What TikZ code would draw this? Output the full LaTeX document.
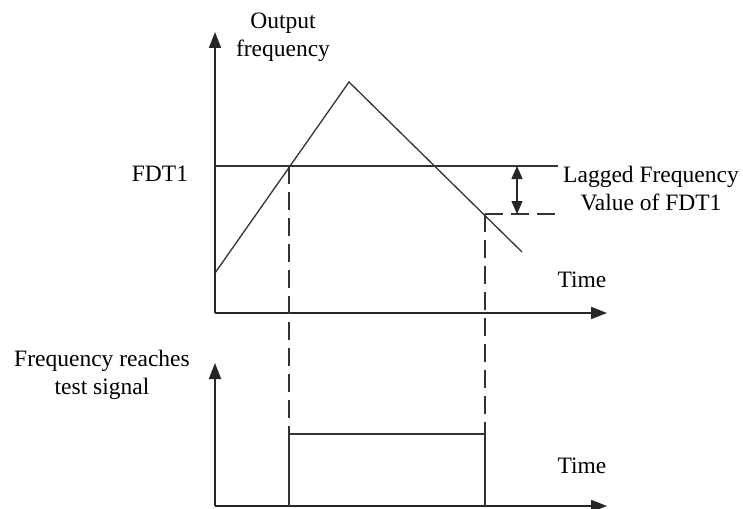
\documentclass[tikz,border=0pt]{standalone}
\usepackage{fontspec}
\setmainfont{Liberation Serif}
\usetikzlibrary{arrows.meta}
\begin{document}
\begin{tikzpicture}[x=1pt,y=-1pt,
  axis/.style={line width=1.8pt,draw=black!85,-{Triangle[length=16pt,width=12pt]}},
  curve/.style={line width=1.3pt,draw=black!80},
  dashline/.style={line width=1.5pt,draw=black!80,dash pattern=on 18pt off 8pt},
  lbl/.style={font=\fontsize{23.5}{28}\selectfont,align=center,inner sep=0pt}]
\useasboundingbox (0,0) rectangle (743,508);
% coordinates
\coordinate (O1) at (215,313);
\coordinate (Y1) at (215,32);
\coordinate (X1) at (607,313);
\coordinate (f0) at (215,273);
\coordinate (pk) at (349,82);
\coordinate (fe) at (522,252);
\coordinate (dL) at (215,166);
\coordinate (dR) at (558,166);
\coordinate (c1) at (289,166);
\coordinate (c2) at (485,214);
\coordinate (lR) at (558,214);
\coordinate (ar1) at (517,166);
\coordinate (ar2) at (517,214);
\coordinate (O2) at (215,506);
\coordinate (Y2) at (215,363);
\coordinate (X2) at (607,506);
\coordinate (p1b) at (289,506);
\coordinate (p1t) at (289,434);
\coordinate (p2t) at (485,434);
\coordinate (p2b) at (485,506);
% top chart
\draw[axis] (O1) -- (Y1);
\draw[axis] (O1) -- (X1);
\draw[curve] (f0) -- (pk) -- (fe);
\draw[curve] (dL) -- (dR);
\draw[dashline] (c2) -- (lR);
\draw[line width=1.3pt,draw=black!85,{Triangle[length=13pt,width=11pt]}-{Triangle[length=13pt,width=11pt]}] (ar1) -- (ar2);
% dashed verticals
\draw[dashline] (c1) -- (p1t);
\draw[dashline] (c2) -- (p2t);
% bottom chart
\draw[axis] (O2) -- (Y2);
\draw[axis] (O2) -- (X2);
\draw[curve] (p1b) -- (p1t) -- (p2t) -- (p2b);
% labels
\node[lbl] (lout) at (283,37) {Output\\frequency};
\node[lbl] (lfdt) at (160,174) {FDT1};
\node[lbl] (llag) at (651,189) {Lagged Frequency\\Value of FDT1};
\node[lbl] (lt1) at (582,280) {Time};
\node[lbl] (lfr) at (102,375) {Frequency reaches\\test signal};
\node[lbl] (lt2) at (582,466) {Time};
\end{tikzpicture}
\end{document}
